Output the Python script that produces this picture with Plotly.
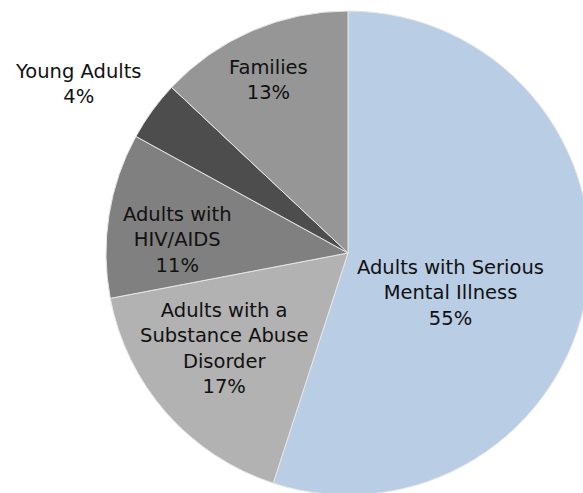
import plotly.graph_objects as go

categories = ["Adults with Serious Mental Illness", "Adults with a Substance Abuse Disorder",
              "Adults with HIV/AIDS", "Young Adults", "Families"]
display_labels = ["Adults with Serious<br>Mental Illness", "Adults with a<br>Substance Abuse<br>Disorder",
                  "Adults with<br>HIV/AIDS", "Young Adults", "Families"]
values = [55, 17, 11, 4, 13]
colors = ["#B9CDE5", "#B2B2B2", "#808080", "#4D4D4D", "#969696"]

W, H = 600, 500
L, T, P = 106, 11, 484  # plot area left, top, size
R, B = W - L - P, H - T - P

# label text centre positions (pixels)
label_px = [(450, 293), (224, 348), (177, 240), (78, 84), (268, 80)]

fig = go.Figure(go.Pie(
    labels=categories, values=values, sort=False, direction="clockwise", rotation=0,
    marker=dict(colors=colors, line=dict(color="#E6E6E6", width=1)),
    textinfo="none", hoverinfo="label+percent", showlegend=False,
))

def to_paper(px, py):
    return (px - L) / P, 1 - (py - T) / P

for lab, v, (px, py) in zip(display_labels, values, label_px):
    x, y = to_paper(px, py)
    fig.add_annotation(x=x, y=y, xref="paper", yref="paper", text=f"{lab}<br>{v}%",
                       showarrow=False, xanchor="center", yanchor="middle", align="center",
                       font=dict(family="DejaVu Sans, sans-serif", size=19.5, color="#111111"))

fig.update_layout(width=W, height=H, margin=dict(l=L, r=R, t=T, b=B),
                  paper_bgcolor="white", plot_bgcolor="white")

fig.write_html("out.html", post_script="document.body.style.margin='0';document.body.style.overflow='hidden';document.documentElement.style.overflow='hidden';")
